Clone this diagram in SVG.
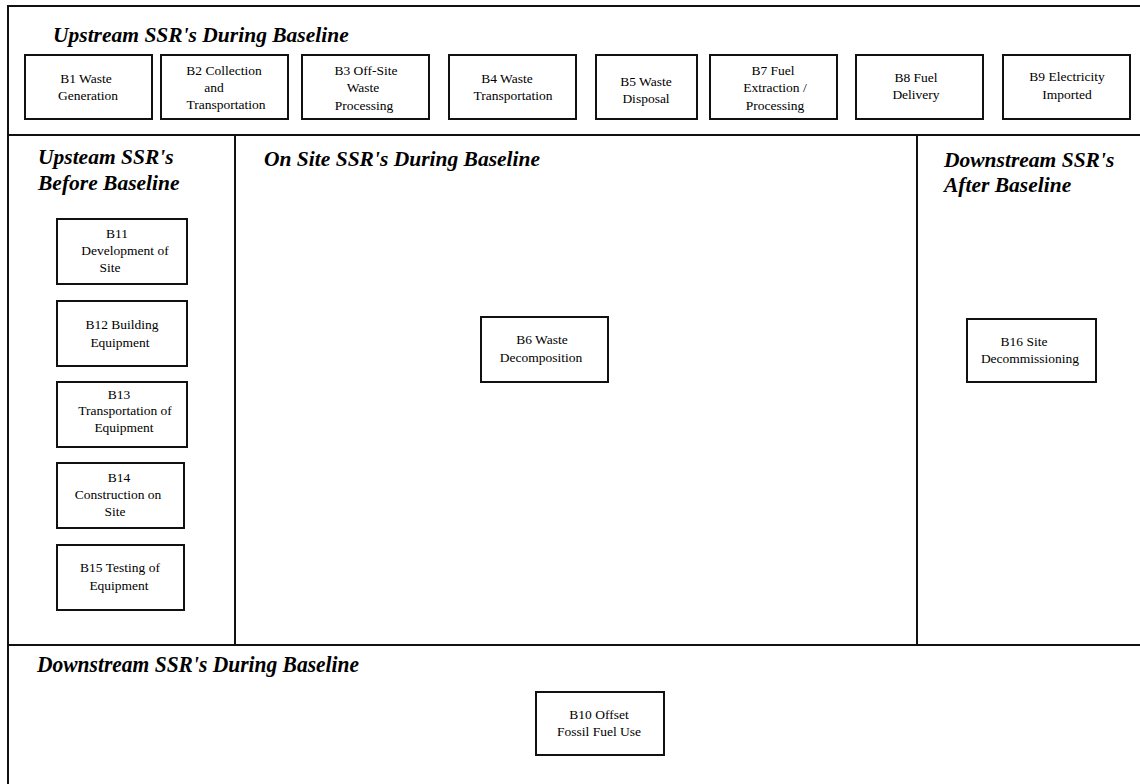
<svg xmlns="http://www.w3.org/2000/svg" width="1140" height="784" viewBox="0 0 1140 784">
<style>
.frame{fill:none;stroke:#111;stroke-width:2}
.box{fill:#fff;stroke:#111;stroke-width:2}
.t{font-family:"Liberation Serif","Times New Roman",serif;font-size:13.5px;fill:#000;text-anchor:middle}
.h{font-family:"Liberation Serif","Times New Roman",serif;font-size:21.5px;font-weight:bold;font-style:italic;fill:#000}
</style>
<rect width="1140" height="784" fill="#fff"/>
<g id="frame">
<rect class="frame" x="8" y="6" width="1150" height="800"/>
<line class="frame" x1="8" y1="135" x2="1140" y2="135"/>
<line class="frame" x1="8" y1="645" x2="1140" y2="645"/>
<line class="frame" x1="235" y1="135" x2="235" y2="645"/>
<line class="frame" x1="917" y1="135" x2="917" y2="645"/>
</g>
<g id="titles">
<text class="h" x="53" y="42">Upstream SSR's During Baseline</text>
<text class="h" x="38" y="164">Upsteam SSR's</text>
<text class="h" x="38" y="190">Before Baseline</text>
<text class="h" x="264" y="166">On Site SSR's During Baseline</text>
<text class="h" x="944" y="167">Downstream SSR's</text>
<text class="h" x="944" y="192">After Baseline</text>
<text class="h" x="37" y="672" style="font-size:24px" textLength="322" lengthAdjust="spacingAndGlyphs">Downstream SSR's During Baseline</text>
</g>
<g id="connectors"></g>
<g id="B1"><rect class="box" x="25" y="55" width="127" height="64"/><text class="t" x="86" y="83">B1 Waste</text><text class="t" x="88" y="100">Generation</text></g>
<g id="B2"><rect class="box" x="161" y="55" width="127" height="64"/><text class="t" x="224" y="75">B2 Collection</text><text class="t" x="214" y="92">and</text><text class="t" x="226" y="109">Transportation</text></g>
<g id="B3"><rect class="box" x="302" y="55" width="127" height="64"/><text class="t" x="366" y="75">B3 Off-Site</text><text class="t" x="363" y="92">Waste</text><text class="t" x="364" y="110">Processing</text></g>
<g id="B4"><rect class="box" x="449" y="55" width="127" height="64"/><text class="t" x="507" y="83">B4 Waste</text><text class="t" x="513" y="100">Transportation</text></g>
<g id="B5"><rect class="box" x="596" y="55" width="101" height="64"/><text class="t" x="646" y="86">B5 Waste</text><text class="t" x="646" y="103">Disposal</text></g>
<g id="B7"><rect class="box" x="710" y="55" width="127" height="64"/><text class="t" x="773" y="75">B7 Fuel</text><text class="t" x="775" y="92">Extraction /</text><text class="t" x="775" y="110">Processing</text></g>
<g id="B8"><rect class="box" x="856" y="55" width="127" height="64"/><text class="t" x="916" y="82">B8 Fuel</text><text class="t" x="916" y="99">Delivery</text></g>
<g id="B9"><rect class="box" x="1003" y="55" width="127" height="64"/><text class="t" x="1067" y="81">B9 Electricity</text><text class="t" x="1067" y="99">Imported</text></g>
<g id="B11"><rect class="box" x="57" y="219" width="130" height="65"/><text class="t" x="117" y="238">B11</text><text class="t" x="125" y="255">Development of</text><text class="t" x="110" y="272">Site</text></g>
<g id="B12"><rect class="box" x="57" y="301" width="130" height="65"/><text class="t" x="122" y="329">B12 Building</text><text class="t" x="120" y="347">Equipment</text></g>
<g id="B13"><rect class="box" x="57" y="382" width="130" height="65"/><text class="t" x="119" y="399">B13</text><text class="t" x="125" y="415">Transportation of</text><text class="t" x="124" y="432">Equipment</text></g>
<g id="B14"><rect class="box" x="57" y="463" width="127" height="65"/><text class="t" x="119" y="482">B14</text><text class="t" x="118" y="499">Construction on</text><text class="t" x="115" y="516">Site</text></g>
<g id="B15"><rect class="box" x="57" y="545" width="127" height="65"/><text class="t" x="120" y="572">B15 Testing of</text><text class="t" x="119" y="590">Equipment</text></g>
<g id="B6"><rect class="box" x="481" y="317" width="127" height="65"/><text class="t" x="542" y="344">B6 Waste</text><text class="t" x="541" y="362">Decomposition</text></g>
<g id="B16"><rect class="box" x="967" y="319" width="129" height="63"/><text class="t" x="1024" y="346">B16 Site</text><text class="t" x="1030" y="363">Decommissioning</text></g>
<g id="B10"><rect class="box" x="536" y="692" width="128" height="63"/><text class="t" x="599" y="719">B10 Offset</text><text class="t" x="599" y="736">Fossil Fuel Use</text></g>
</svg>
